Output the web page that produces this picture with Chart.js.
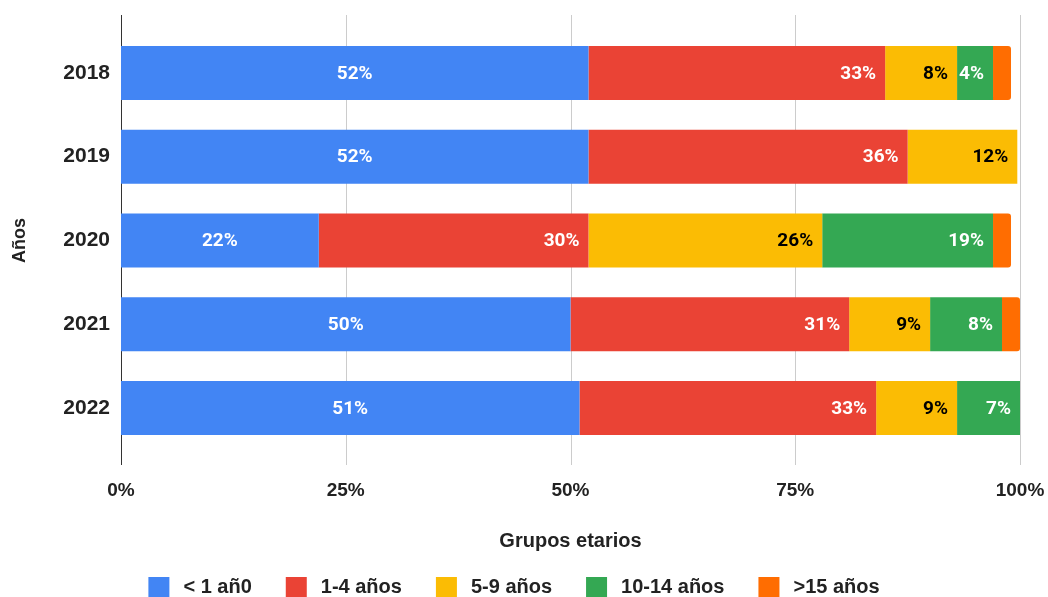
<!DOCTYPE html>
<html>
<head>
<meta charset="utf-8">
<script src="https://cdn.jsdelivr.net/npm/chart.js@4.4.1/dist/chart.umd.min.js"></script>
<style>
html,body{margin:0;padding:0;background:#fff;}
#wrap{width:1048px;height:597px;}
</style>
</head>
<body>
<div id="wrap"><canvas id="chart" width="1048" height="597"></canvas></div>
<script>
// porcentaje de casos por grupo etario y año
var years=['2018','2019','2020','2021','2022'];
var menor1=[52,52,22,50,51];
var de1a4=[33,35.5,30,31,33];
var de5a9=[8,12.2,26,9,9];
var de10a14=[4,0,19,8,7];
var mayor15=[2,0,2,2,0];
var seriesNames=['< 1 añ0','1-4 años','5-9 años','10-14 años','>15 años'];
var seriesColors=['#4285F4','#EA4335','#FBBC04','#34A853','#FF6D01'];
var labelColors=['#ffffff','#ffffff','#000000','#ffffff','#ffffff'];
var xTicks=[0,25,50,75,100];

var axisFont='"Liberation Sans", Arial, sans-serif';

var seriesData=[menor1,de1a4,de5a9,de10a14,mayor15];
var datasets=seriesData.map(function(d,i){
    return {
        label:seriesNames[i],
        data:d,
        backgroundColor:seriesColors[i],
        borderWidth:0,
        borderRadius:i==4?3:0,
        barPercentage:0.644,
        categoryPercentage:1
    };
});

// lineas verticales de la grilla, un poco mas largas que el area del grafico
var gridLines={
    id:'gridLines',
    beforeDatasetsDraw:function(chart){
        var ctx=chart.ctx, area=chart.chartArea, xs=chart.scales.x;
        ctx.save();
        ctx.lineWidth=1;
        xTicks.forEach(function(v){
            var px=Math.round(xs.getPixelForValue(v))+0.5;
            ctx.strokeStyle=v==0?'#333333':'#cccccc';
            ctx.beginPath();
            ctx.moveTo(px,area.top-16);
            ctx.lineTo(px,area.bottom+15);
            ctx.stroke();
        });
        ctx.restore();
    }
};

// etiquetas de valor dentro de cada barra
var barLabels={
    id:'barLabels',
    afterDatasetsDraw:function(chart){
        var ctx=chart.ctx;
        ctx.save();
        ctx.font='bold 19px Roboto, sans-serif';
        ctx.textBaseline='middle';
        chart.data.datasets.forEach(function(ds,i){
            var meta=chart.getDatasetMeta(i);
            meta.data.forEach(function(bar,j){
                var v=ds.data[j];
                if(v<3) return;
                ctx.fillStyle=labelColors[i];
                var txt=Math.round(v)+'%';
                if(i==0){
                    ctx.textAlign='center';
                    ctx.fillText(txt,(bar.x+bar.base)/2,bar.y+1);
                }else{
                    ctx.textAlign='right';
                    ctx.fillText(txt,bar.x-9,bar.y+1);
                }
            });
        });
        ctx.restore();
    }
};

// leyenda inferior
var bottomLegend={
    id:'bottomLegend',
    afterDraw:function(chart){
        var ctx=chart.ctx;
        var box=21, gap=14, itemGap=34, top=577;
        ctx.save();
        ctx.font='bold 20px '+axisFont;
        ctx.textBaseline='middle';
        ctx.textAlign='left';
        var widths=seriesNames.map(function(n){return ctx.measureText(n).width;});
        var total=0;
        widths.forEach(function(w,i){total+=box+gap+w+(i<widths.length-1?itemGap:0);});
        var x=514-total/2;
        seriesNames.forEach(function(n,i){
            ctx.fillStyle=seriesColors[i];
            ctx.fillRect(x,top,box,box);
            ctx.fillStyle='#222222';
            ctx.fillText(n,x+box+gap,top+box/2);
            x+=box+gap+widths[i]+itemGap;
        });
        ctx.restore();
    }
};

var chartConfig={
    type:'bar',
    data:{labels:years,datasets:datasets},
    options:{
        indexAxis:'y',
        responsive:false,
        animation:false,
        layout:{padding:{top:31,right:28,left:0,bottom:0}},
        plugins:{legend:{display:false},tooltip:{enabled:false}},
        scales:{
            x:{
                stacked:true,
                min:0,
                max:100,
                grid:{display:false,drawTicks:false},
                border:{display:false},
                ticks:{
                    stepSize:25,
                    padding:29,
                    maxRotation:0,
                    color:'#222222',
                    font:{family:axisFont,size:19,weight:'bold'},
                    callback:function(v){return v+'%';}
                },
                title:{
                    display:true,
                    text:'Grupos etarios',
                    color:'#222222',
                    font:{family:axisFont,size:20,weight:'bold'},
                    padding:{top:27,bottom:44}
                },
                afterFit:function(s){
                    s.height=147;
                    s.paddingLeft=0;
                    s.paddingRight=0;
                }
            },
            y:{
                stacked:true,
                grid:{display:false,drawTicks:false},
                border:{display:false},
                ticks:{
                    padding:11,
                    color:'#222222',
                    font:{family:axisFont,size:21,weight:'bold'}
                },
                title:{
                    display:true,
                    text:'Años',
                    color:'#222222',
                    font:{family:axisFont,size:18,weight:'bold'},
                    padding:{top:9,bottom:0}
                },
                afterFit:function(s){s.width=121;}
            }
        }
    },
    plugins:[gridLines,barLabels,bottomLegend]
};
var chart=new Chart(document.getElementById('chart'),chartConfig);
</script>
</body>
</html>
